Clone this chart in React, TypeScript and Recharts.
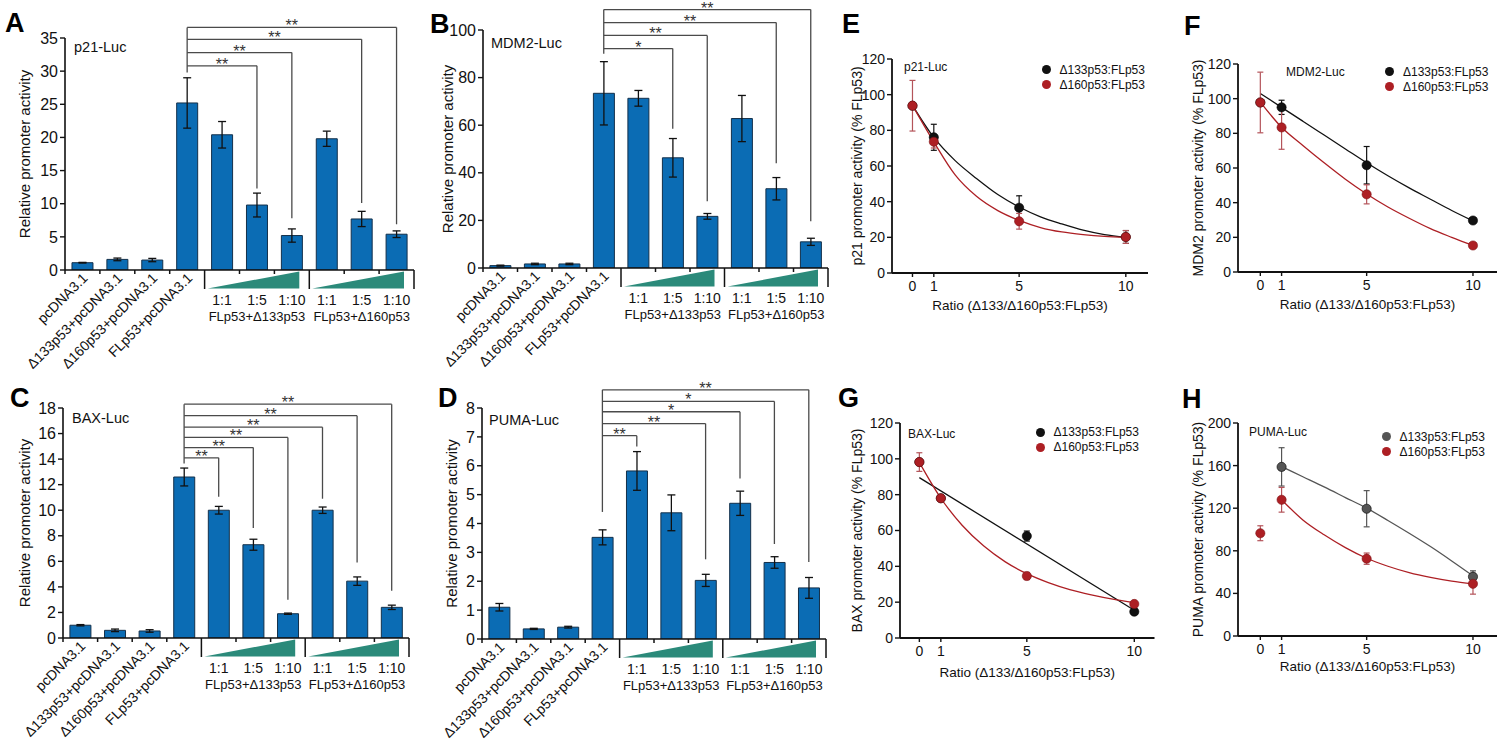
import React from 'react'
import {
  BarChart,
  Bar,
  XAxis,
  YAxis,
  ErrorBar,
  ReferenceLine,
  ComposedChart,
  Scatter,
  Line,
  Legend,
} from 'recharts'

const FONT = '"Liberation Sans", Arial, Helvetica, sans-serif'
const BLUE = '#0b6cb4'
const TEAL = '#2b8a7a'
const RED = '#ad1f24'
const RED_ERR = '#b4545a'
const INK = '#111'
const BRACKET = '#4a4a4a'

// ---------- bar panels (A-D) ----------
const categories = [
  'pcDNA3.1',
  'Δ133p53+pcDNA3.1',
  'Δ160p53+pcDNA3.1',
  'FLp53+pcDNA3.1',
  'FLp53+Δ133p53 1:1',
  'FLp53+Δ133p53 1:5',
  'FLp53+Δ133p53 1:10',
  'FLp53+Δ160p53 1:1',
  'FLp53+Δ160p53 1:5',
  'FLp53+Δ160p53 1:10',
]
const ratioLabels = ['1:1', '1:5', '1:10']
const groupLabels = ['FLp53+Δ133p53', 'FLp53+Δ160p53']

// [target bar, bracket level, end of drop line, stars]
type Bracket = [number, number, number, string]

const p21Values = [1.1, 1.6, 1.5, 25.2, 20.4, 9.8, 5.2, 19.8, 7.7, 5.4]
const p21Errors = [0.05, 0.2, 0.25, 3.8, 2.0, 1.8, 1.0, 1.15, 1.15, 0.5]
const p21Ticks = [0, 5, 10, 15, 20, 25, 30, 35]
const p21Brackets: Bracket[] = [
  [5, 30.8, 12.3, '**'],
  [6, 32.8, 7.8, '**'],
  [8, 34.8, 10.1, '**'],
  [9, 36.6, 6.9, '**'],
]

const mdm2Values = [1.0, 1.7, 1.7, 73.4, 71.3, 46.3, 21.7, 62.8, 33.3, 11.0]
const mdm2Errors = [0.2, 0.3, 0.3, 13.3, 3.3, 8.1, 1.2, 9.7, 4.7, 1.5]
const mdm2Ticks = [0, 20, 40, 60, 80, 100]
const mdm2Brackets: Bracket[] = [
  [5, 92.2, 58.5, '*'],
  [6, 97.7, 28, '**'],
  [8, 103.1, 44, '**'],
  [9, 108.6, 19.6, '**'],
]

const baxValues = [1.0, 0.6, 0.55, 12.6, 10.0, 7.3, 1.9, 10.0, 4.45, 2.4]
const baxErrors = [0.05, 0.1, 0.1, 0.7, 0.3, 0.43, 0.05, 0.25, 0.33, 0.17]
const baxTicks = [0, 2, 4, 6, 8, 10, 12, 14, 16, 18]
const baxBrackets: Bracket[] = [
  [4, 14.1, 11.05, '**'],
  [5, 14.9, 8.6, '**'],
  [6, 15.7, 3.0, '**'],
  [7, 16.5, 10.9, '**'],
  [8, 17.4, 5.9, '**'],
  [9, 18.3, 3.7, '**'],
]

const pumaValues = [1.1, 0.35, 0.41, 3.52, 5.82, 4.37, 2.03, 4.7, 2.65, 1.77]
const pumaErrors = [0.13, 0.02, 0.03, 0.26, 0.67, 0.62, 0.21, 0.42, 0.2, 0.36]
const pumaTicks = [0, 1, 2, 3, 4, 5, 6, 7, 8]
const pumaBrackets: Bracket[] = [
  [4, 7.04, 6.67, '**'],
  [6, 7.46, 2.76, '**'],
  [7, 7.87, 5.56, '*'],
  [8, 8.23, 3.29, '*'],
  [9, 8.63, 2.67, '**'],
]

// ---------- ratio panels (E-H) ----------
const ratioTicks = [0, 1, 5, 10]
const ratioX = [0, 1, 5, 10]
const fitX = [0, 1, 2, 3, 4, 5, 6, 7, 8, 9, 10]
const pctTicks = [0, 20, 40, 60, 80, 100, 120]
const pumaPctTicks = [0, 40, 80, 120, 160, 200]

const p21D133 = [93.8, 76.1, 36.6, 20.2]
const p21D133Err = [0, 7.3, 6.7, 3.6]
const p21D160 = [93.8, 73.6, 29.0, 20.2]
const p21D160Err = [14.2, 3.5, 4.4, 3.6]
const p21Fit133 = [94, 76, 63, 53, 44, 37, 31.5, 27.5, 24, 21.5, 20]
const p21Fit160 = [94, 73.5, 55, 43, 35, 29.5, 25.5, 23, 21.5, 20.5, 20]

const mdm2D133 = [97.8, 95.0, 61.6, 29.7]
const mdm2D133Err = [0, 4.1, 10.8, 1.5]
const mdm2D160 = [97.8, 83.4, 44.8, 15.3]
const mdm2D160Err = [17.5, 12.6, 5.5, 1.2]
const mdm2Fit133 = [103, 95, 87, 79, 71, 63, 55.5, 48.5, 42, 35.5, 29.5]
const mdm2Fit160 = [98, 83.5, 73, 63, 53.5, 45, 37.5, 31, 25, 20, 15.3]

const baxD133 = [98.2, 78, 56.9, 14.7]
const baxD133Err = [0, 0, 2.8, 1.5]
const baxD160 = [98.2, 78, 34.6, 19.0]
const baxD160Err = [5.2, 1.5, 2, 1]
const baxFit133X = [0, 10]
const baxFit133 = [89.5, 15.5]
const baxFit160 = [98, 78, 62.8, 51.3, 42.5, 35.9, 30.9, 27, 24.1, 21.7, 19.8]

const pumaD133X = [1, 5, 10]
const pumaD133 = [158.8, 119.5, 55.7]
const pumaD133Err = [18, 17, 5.5]
const pumaD160 = [96.5, 127.9, 72.6, 49]
const pumaD160Err = [7, 11.6, 5.3, 9.7]
const pumaFitX = [1, 2, 3, 4, 5, 6, 7, 8, 9, 10]
const pumaFit133 = [159, 149.5, 140, 130, 120, 108.5, 96.5, 84, 70.5, 56.5]
const pumaFit160 = [128, 109, 95, 83, 73, 65.5, 59.5, 55, 51.5, 49]

const points = (xs: number[], ys: number[], errs?: number[]) =>
  xs.map((x, i) => ({ x, y: ys[i], err: errs ? errs[i] : 0 }))

function renderBarTick(p: any, band: number) {
  const { x, y, payload } = p
  const i = categories.indexOf(payload.value)
  const l = x - band / 2
  const r = x + band / 2
  const parts: React.ReactNode[] = []
  const long = i === 4 || i === 7
  parts.push(
    <line key="tl" x1={l} x2={l} y1={y} y2={y + (long ? 19 : 4)} stroke={INK} strokeWidth={1.5} />
  )
  if (i === categories.length - 1) {
    parts.push(<line key="tr" x1={r} x2={r} y1={y} y2={y + 19} stroke={INK} strokeWidth={1.5} />)
  }
  if (i < 4) {
    const ax = x + 6
    const ay = y + 9
    parts.push(
      <text key="lab" x={ax} y={ay} textAnchor="end" transform={`rotate(-45 ${ax} ${ay})`} fontSize={14} fill={INK}>
        {payload.value}
      </text>
    )
  } else {
    const k = (i - 4) % 3
    parts.push(
      <text key="r" x={x} y={y + 35} textAnchor="middle" fontSize={14} fill={INK}>
        {ratioLabels[k]}
      </text>
    )
    if (k === 1) {
      const g = Math.floor((i - 4) / 3)
      const x0 = x - 1.5 * band + 3
      const x1 = x + 1.5 * band - 10
      parts.push(
        <polygon key="w" points={`${x0},${y + 18.5} ${x1},${y + 1.5} ${x1},${y + 18.5}`} fill={TEAL} />
      )
      parts.push(
        <text key="g" x={x} y={y + 51} textAnchor="middle" fontSize={13} fill={INK}>
          {groupLabels[g]}
        </text>
      )
    }
  }
  return <g>{parts}</g>
}

interface BarPanelProps {
  left: number
  top: number
  width: number
  height: number
  yWidth: number
  marginTop: number
  marginRight: number
  xHeight: number
  values: number[]
  errors: number[]
  yTicks: number[]
  brackets: Bracket[]
  flEnd: number
  labelOffset: number
}

function BarPanel(props: BarPanelProps) {
  const { left, top, width, height, yWidth, marginTop, marginRight, xHeight, values, errors, yTicks, brackets, flEnd, labelOffset } = props
  const data = categories.map((name, i) => ({ name, value: values[i], err: errors[i] }))
  const band = (width - yWidth - marginRight) / categories.length
  const yMax = yTicks[yTicks.length - 1]
  const topLevel = Math.max(...brackets.map((b) => b[1]))
  const fl = categories[3]
  return (
    <div style={{ position: 'absolute', left, top }}>
      <BarChart
        width={width}
        height={height}
        data={data}
        margin={{ top: marginTop, right: marginRight, bottom: 0, left: 0 }}
        barCategoryGap="20%"
      >
        <XAxis
          dataKey="name"
          interval={0}
          height={xHeight}
          tickSize={0}
          tickMargin={0}
          tickLine={false}
          axisLine={{ stroke: INK, strokeWidth: 1.6 }}
          tick={(p: any) => renderBarTick(p, band)}
        />
        <YAxis
          width={yWidth}
          domain={[0, yMax]}
          ticks={yTicks}
          allowDataOverflow
          interval={0}
          tickSize={5}
          tick={{ fontSize: 16, fill: INK }}
          axisLine={{ stroke: INK, strokeWidth: 1.6 }}
          tickLine={{ stroke: INK, strokeWidth: 1.4 }}
          label={{
            value: 'Relative promoter activity',
            angle: -90,
            position: 'insideLeft',
            offset: labelOffset,
            style: { textAnchor: 'middle' },
            fontSize: 15,
            fill: INK,
          }}
        />
        <Bar dataKey="value" fill={BLUE} stroke="#14304a" strokeWidth={1} isAnimationActive={false}>
          <ErrorBar dataKey="err" width={4} stroke={INK} strokeWidth={1.3} />
        </Bar>
        <ReferenceLine
          segment={[{ x: fl, y: flEnd }, { x: fl, y: topLevel }]}
          stroke={BRACKET}
          strokeWidth={1.3}
          ifOverflow="visible"
        />
        {brackets.map(([t, level, drop, stars]) => (
          <ReferenceLine
            key={`h${t}`}
            segment={[{ x: fl, y: level }, { x: categories[t], y: level }]}
            stroke={BRACKET}
            strokeWidth={1.3}
            ifOverflow="visible"
            label={{ value: stars, position: 'top', offset: -4, fontSize: 16, fill: '#333' }}
          />
        ))}
        {brackets.map(([t, level, drop]) => (
          <ReferenceLine
            key={`v${t}`}
            segment={[{ x: categories[t], y: level }, { x: categories[t], y: drop }]}
            stroke={BRACKET}
            strokeWidth={1.3}
            ifOverflow="visible"
          />
        ))}
      </BarChart>
    </div>
  )
}

const renderDotLegend = (p: any) => (
  <div style={{ fontSize: 12, color: INK, fontFamily: FONT }}>
    {(p.payload || [])
      .filter((e: any) => e.type !== 'none')
      .map((e: any) => (
        <div key={e.value} style={{ display: 'flex', alignItems: 'center', height: 15, whiteSpace: 'nowrap' }}>
          <span
            style={{ width: 9, height: 9, borderRadius: '50%', background: e.color, marginRight: 9, display: 'inline-block' }}
          />
          {e.value}
        </div>
      ))}
  </div>
)

interface LinePanelProps {
  left: number
  top: number
  width: number
  height: number
  yWidth: number
  marginTop: number
  marginRight: number
  xDomain: [number, number]
  yTicks: number[]
  yLabel: string
  labelOffset: number
  xLabelOffset: number
  pts133: { x: number; y: number; err: number }[]
  pts160: { x: number; y: number; err: number }[]
  fit133: { x: number; y: number; err: number }[]
  fit160: { x: number; y: number; err: number }[]
  color133: string
  legendLeft: number
  legendTop: number
}

function LinePanel(props: LinePanelProps) {
  const p = props
  const yMax = p.yTicks[p.yTicks.length - 1]
  return (
    <div style={{ position: 'absolute', left: p.left, top: p.top }}>
      <ComposedChart
        width={p.width}
        height={p.height}
        margin={{ top: p.marginTop, right: p.marginRight, bottom: 0, left: 0 }}
      >
        <XAxis
          type="number"
          dataKey="x"
          domain={p.xDomain}
          ticks={ratioTicks}
          allowDataOverflow
          interval={0}
          height={45}
          tickSize={4}
          tickMargin={4}
          tick={{ fontSize: 14, fill: INK }}
          axisLine={{ stroke: INK, strokeWidth: 1.8 }}
          tickLine={{ stroke: INK, strokeWidth: 1.4 }}
          label={{
            value: 'Ratio (Δ133/Δ160p53:FLp53)',
            position: 'insideBottom',
            offset: p.xLabelOffset,
            fontSize: 13.5,
            fill: INK,
          }}
        />
        <YAxis
          type="number"
          dataKey="y"
          domain={[0, yMax]}
          ticks={p.yTicks}
          allowDataOverflow
          interval={0}
          width={p.yWidth}
          tickSize={5}
          tick={{ fontSize: 14, fill: INK }}
          axisLine={{ stroke: INK, strokeWidth: 1.8 }}
          tickLine={{ stroke: INK, strokeWidth: 1.4 }}
          label={{
            value: p.yLabel,
            angle: -90,
            position: 'insideLeft',
            offset: p.labelOffset,
            style: { textAnchor: 'middle' },
            fontSize: 14,
            fill: INK,
          }}
        />
        <Line
          data={p.fit133}
          dataKey="y"
          type="monotone"
          stroke={p.color133}
          strokeWidth={1.3}
          dot={false}
          legendType="none"
          isAnimationActive={false}
        />
        <Line
          data={p.fit160}
          dataKey="y"
          type="monotone"
          stroke={RED}
          strokeWidth={1.3}
          dot={false}
          legendType="none"
          isAnimationActive={false}
        />
        <Scatter
          name="Δ133p53:FLp53"
          data={p.pts133}
          dataKey="y"
          fill={p.color133}
          isAnimationActive={false}
          shape={(s: any) => <circle cx={s.cx} cy={s.cy} r={4.6} fill={p.color133} stroke="#000" strokeWidth={0.6} />}
        >
          <ErrorBar dataKey="err" direction="y" width={3} stroke={p.color133} strokeWidth={1.2} />
        </Scatter>
        <Scatter
          name="Δ160p53:FLp53"
          data={p.pts160}
          dataKey="y"
          fill={RED}
          isAnimationActive={false}
          shape={(s: any) => <circle cx={s.cx} cy={s.cy} r={4.6} fill={RED} stroke="#7d1215" strokeWidth={0.6} />}
        >
          <ErrorBar dataKey="err" direction="y" width={3} stroke={RED_ERR} strokeWidth={1.2} />
        </Scatter>
        <Legend
          layout="vertical"
          align="center"
          verticalAlign="middle"
          wrapperStyle={{ left: p.legendLeft, top: p.legendTop, width: 'auto' }}
          content={renderDotLegend}
        />
      </ComposedChart>
    </div>
  )
}

const panelLetters: [string, number, number][] = [
  ['A', 5, 32],
  ['B', 430, 33],
  ['C', 10, 407],
  ['D', 438, 407],
  ['E', 842, 33],
  ['F', 1184, 35],
  ['G', 838, 407],
  ['H', 1182, 408],
]

const barTitles: [string, number, number][] = [
  ['p21-Luc', 74, 52],
  ['MDM2-Luc', 491, 48],
  ['BAX-Luc', 72, 423],
  ['PUMA-Luc', 489, 425],
]

const lineTitles: [string, number, number][] = [
  ['p21-Luc', 904, 71],
  ['MDM2-Luc', 1286, 76],
  ['BAX-Luc', 908, 437.5],
  ['PUMA-Luc', 1249, 436],
]

export default function App() {
  return (
    <div
      style={{
        position: 'absolute',
        left: 0,
        top: 0,
        width: 1500,
        height: 744,
        background: '#fff',
        fontFamily: FONT,
        overflow: 'hidden',
      }}
    >
      <BarPanel
        left={0}
        top={0}
        width={429}
        height={376}
        yWidth={65}
        marginTop={38}
        marginRight={15}
        xHeight={106}
        values={p21Values}
        errors={p21Errors}
        yTicks={p21Ticks}
        brackets={p21Brackets}
        flEnd={29.8}
        labelOffset={25}
      />
      <BarPanel
        left={420}
        top={0}
        width={423}
        height={376}
        yWidth={63}
        marginTop={30}
        marginRight={15}
        xHeight={108}
        values={mdm2Values}
        errors={mdm2Errors}
        yTicks={mdm2Ticks}
        brackets={mdm2Brackets}
        flEnd={90}
        labelOffset={28}
      />
      <BarPanel
        left={0}
        top={370}
        width={424}
        height={374}
        yWidth={63}
        marginTop={38}
        marginRight={15}
        xHeight={106}
        values={baxValues}
        errors={baxErrors}
        yTicks={baxTicks}
        brackets={baxBrackets}
        flEnd={13.65}
        labelOffset={25}
      />
      <BarPanel
        left={420}
        top={370}
        width={421}
        height={374}
        yWidth={62}
        marginTop={38}
        marginRight={15}
        xHeight={105}
        values={pumaValues}
        errors={pumaErrors}
        yTicks={pumaTicks}
        brackets={pumaBrackets}
        flEnd={4.4}
        labelOffset={32}
      />

      <LinePanel
        left={840}
        top={0}
        width={320}
        height={318}
        yWidth={52}
        marginTop={59}
        marginRight={12}
        xDomain={[-0.96, 11.04]}
        yTicks={pctTicks}
        yLabel="p21 promoter activity (% FLp53)"
        labelOffset={17}
        xLabelOffset={8.5}
        pts133={points(ratioX, p21D133, p21D133Err)}
        pts160={points(ratioX, p21D160, p21D160Err)}
        fit133={points(fitX, p21Fit133)}
        fit160={points(fitX, p21Fit160)}
        color133="#111"
        legendLeft={201.5}
        legendTop={62}
      />
      <LinePanel
        left={1180}
        top={0}
        width={320}
        height={317}
        yWidth={58}
        marginTop={64}
        marginRight={3}
        xDomain={[-1.05, 11.13]}
        yTicks={pctTicks}
        yLabel="MDM2 promoter activity (% FLp53)"
        labelOffset={18}
        xLabelOffset={8.5}
        pts133={points(ratioX, mdm2D133, mdm2D133Err)}
        pts160={points(ratioX, mdm2D160, mdm2D160Err)}
        fit133={points(fitX, mdm2Fit133)}
        fit160={points(fitX, mdm2Fit160)}
        color133="#111"
        legendLeft={205}
        legendTop={64}
      />
      <LinePanel
        left={845}
        top={370}
        width={320}
        height={313}
        yWidth={55}
        marginTop={53}
        marginRight={10.5}
        xDomain={[-0.9, 10.94]}
        yTicks={pctTicks}
        yLabel="BAX promoter activity (% FLp53)"
        labelOffset={12}
        xLabelOffset={6.5}
        pts133={points(ratioX, baxD133, baxD133Err)}
        pts160={points(ratioX, baxD160, baxD160Err)}
        fit133={points(baxFit133X, baxFit133)}
        fit160={points(fitX, baxFit160)}
        color133="#111"
        legendLeft={190.5}
        legendTop={54.5}
      />
      <LinePanel
        left={1180}
        top={370}
        width={320}
        height={311}
        yWidth={58}
        marginTop={53}
        marginRight={3}
        xDomain={[-1.05, 11.13]}
        yTicks={pumaPctTicks}
        yLabel="PUMA promoter activity (% FLp53)"
        labelOffset={18}
        xLabelOffset={10}
        pts133={points(pumaD133X, pumaD133, pumaD133Err)}
        pts160={points(ratioX, pumaD160, pumaD160Err)}
        fit133={points(pumaFitX, pumaFit133)}
        fit160={points(pumaFitX, pumaFit160)}
        color133="#555"
        legendLeft={201.5}
        legendTop={59}
      />

      <svg
        width={1500}
        height={744}
        style={{ position: 'absolute', left: 0, top: 0, pointerEvents: 'none' }}
      >
        {panelLetters.map(([t, x, y]) => (
          <text key={t} x={x} y={y} fontSize={27} fontWeight="bold" fill="#000">
            {t}
          </text>
        ))}
        {barTitles.map(([t, x, y]) => (
          <text key={t + x} x={x} y={y} fontSize={14.5} fill={INK}>
            {t}
          </text>
        ))}
        {lineTitles.map(([t, x, y]) => (
          <text key={t + x} x={x} y={y} fontSize={12} fill={INK}>
            {t}
          </text>
        ))}
      </svg>
    </div>
  )
}
